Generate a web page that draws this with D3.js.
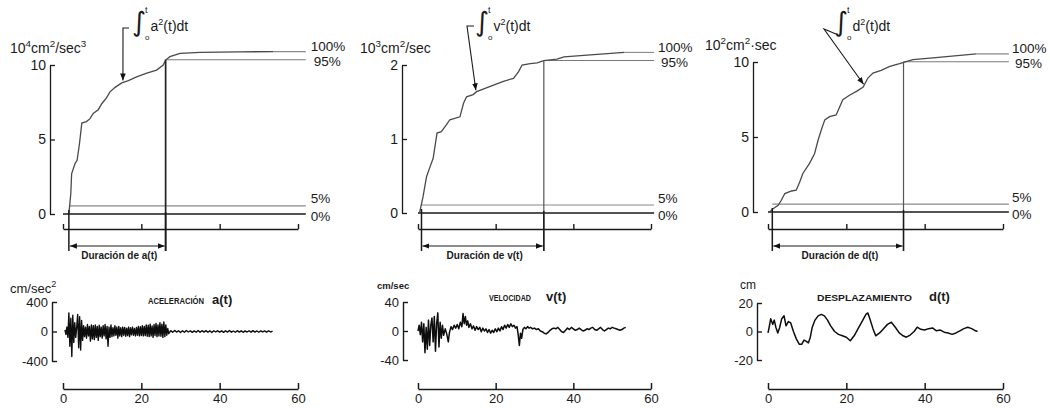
<!DOCTYPE html>
<html>
<head>
<meta charset="utf-8">
<script src="https://cdn.jsdelivr.net/npm/d3@7"></script>
<style>
  body { margin: 0; background: #fff; }
  svg { display: block; }
  text { font-family: "Liberation Sans", Arial, sans-serif; fill: #1a1a1a; }
</style>
</head>
<body>
<svg id="fig" width="1050" height="408"></svg>
<script>
// ---------------- data ----------------
const timeTicks = [0, 20, 40, 60];

// cumulative integrals [t (s), value]
const accelEnergyTicks = [0, 5, 10];           // 10^4 cm^2/sec^3
const accelEnergy = [
  [1.5, 0], [2.0, 1.4], [2.2, 2.7], [3.1, 3.4], [3.6, 3.6], [4.2, 4.7], [4.8, 6.1],
  [6.0, 6.2], [6.9, 6.4], [7.7, 6.75], [9.0, 7.0], [9.9, 7.4], [11.1, 7.8],
  [12.0, 8.2], [13.3, 8.5], [15.0, 8.8], [16.7, 8.95], [18.8, 9.2], [21.4, 9.45],
  [23.9, 9.66], [25.6, 10.0], [26.2, 10.33], [27.3, 10.56], [29.9, 10.78],
  [35.0, 10.85], [45.0, 10.88], [53.7, 10.9]
];
const velocityEnergyTicks = [0, 1, 2];         // 10^3 cm^2/sec
const velocityEnergy = [
  [0.4, 0.0], [1.3, 0.22], [2.2, 0.49], [3.0, 0.61], [3.9, 0.74], [4.9, 1.08],
  [6.0, 1.10], [7.3, 1.19], [8.2, 1.26], [10.8, 1.30], [11.7, 1.48], [12.5, 1.57],
  [14.2, 1.60], [15.1, 1.64], [18.6, 1.71], [22.0, 1.78], [24.6, 1.82], [25.9, 1.91],
  [26.8, 2.0], [28.9, 2.02], [30.7, 2.03], [32.4, 2.06], [35.8, 2.08], [37.6, 2.11],
  [42.7, 2.13], [53.1, 2.17]
];
const displacementEnergyTicks = [0, 5, 10];    // 10^2 cm^2·sec
const displacementEnergy = [
  [0.4, 0], [1.3, 0.22], [2.6, 0.45], [3.4, 0.78], [4.3, 1.23], [6.0, 1.4], [7.2, 1.45],
  [8.1, 2.0], [8.9, 2.57], [10.6, 3.24], [11.9, 3.9], [12.8, 4.8], [13.6, 5.47],
  [14.5, 6.14], [15.7, 6.36], [17.4, 6.47], [19.1, 7.48], [20.9, 7.8], [22.6, 8.04],
  [24.3, 8.33], [25.5, 8.93], [26.8, 9.26], [28.9, 9.44], [31.1, 9.71], [33.6, 9.89],
  [34.6, 9.98], [37.0, 10.16], [42.1, 10.27], [53.2, 10.54]
];
const percentLabels = ["100%", "95%", "5%", "0%"];

// significant duration bounds [start, end] (s)
const accelDuration = [1.5, 26.2];
const velocityDuration = [0.9, 32.4];
const displacementDuration = [1.1, 34.6];

// acceleration a(t), cm/sec^2: 0.25 s samples from 0.5 s, then 0.5 s samples from 27.5 s
const accelTicks = [-400, 0, 400];
const accelStart = 0.5, accelStep = 0.25;
const accel = [
  20, -40, 60, -80,
  250, -200, 180, -340, 220,
  -150, 120, -80, 60,
  230, -220, 200, -250, 150, -120,
  80, -70, 60, -90, 95, -60,
  70, -130, 90, -100, 80, -110,
  90, -80, 70, -120, 85, -70,
  60, -90, 80, -60, 95, -100,
  70, -200, 60, -80, 90, -70,
  50, -60, 80, -50, 60, -90,
  70, -60, 50, -70, 60, -50,
  55, -65, 45, -55, 60, -70,
  50, -45, 60, -50, 40, -60,
  55, -50, 70, -60, 65, -55,
  80, -60, 70, -55, 90, -65,
  85, -70, 100, -60, 75, -80,
  95, -55, 110, -70, 90, -60,
  120, -65, 100, -80, 130, -70,
  90, -50, 40, -30
];
const accelTailStart = 27.5, accelTailStep = 0.5;
const accelTail = [
  12, -10, 15, -8, 10, -14, 9, -11, 13, -7, 10, -12, 8, -10, 14, -9, 11, -8, 12, -10,
  9, -13, 10, -7, 11, -9, 8, -12, 10, -8, 13, -9, 7, -10, 11, -8, 9, -11, 8, -7,
  10, -9, 12, -8, 7, -10, 9, -6, 8, -9, 10, -7, 5
];

// velocity v(t), cm/sec
const velocityTicks = [-40, 0, 40];
const velocity = [
  [0, 0], [0.3, 8], [0.6, -5], [0.9, 12], [1.2, -15], [1.5, 10], [1.8, -30], [2.1, 5],
  [2.4, -25], [2.7, 15], [3.0, -20], [3.3, 8], [3.6, 18], [3.9, -15], [4.2, 20],
  [4.5, -28], [4.8, 10], [5.1, 25], [5.4, -22], [5.7, 12], [6.0, -10], [6.3, 8],
  [6.6, -6], [7.0, 3], [7.4, -4], [7.8, -15], [8.1, -2], [8.5, 6], [8.9, 2], [9.3, 8],
  [9.7, 4], [10.1, 9], [10.5, 3], [10.9, 12], [11.3, 6], [11.6, 24], [11.9, 10],
  [12.2, 20], [12.5, 8], [12.8, 14], [13.1, 5], [13.5, 10], [13.9, 3], [14.3, 7],
  [14.7, 1], [15.1, 6], [15.5, 2], [15.9, 5], [16.3, -1], [16.7, 4], [17.1, 0],
  [17.5, 3], [17.9, -2], [18.3, 2], [18.7, -3], [19.1, 1], [19.5, -2], [19.9, 3],
  [20.3, -1], [20.7, 4], [21.1, 0], [21.5, 6], [21.9, 2], [22.3, 8], [22.7, 4],
  [23.1, 9], [23.5, 5], [23.9, 10], [24.3, 6], [24.7, 8], [25.1, 4], [25.5, 6],
  [25.8, -5], [26.1, -20], [26.4, -3], [26.7, -10], [27.0, 2], [27.4, 5], [27.8, 3],
  [28.2, 6], [28.6, 4], [29.0, 5], [29.5, 3], [30.0, 4], [30.5, 2], [31.0, 3],
  [31.5, 0], [32.0, -1], [32.5, -3], [33.0, -4], [33.5, -2], [34.0, 1], [34.5, 3],
  [35.0, 4], [35.5, 3], [36.0, 5], [36.5, 2], [37.0, -1], [37.5, -2], [38.0, 1],
  [38.5, 4], [39.0, 2], [39.5, 5], [40.0, 3], [40.5, 1], [41.0, 2], [41.5, 4],
  [42.0, 2], [42.5, 0], [43.0, 1], [43.5, 3], [44.0, 2], [44.5, 4], [45.0, 5],
  [45.5, 2], [46.0, 1], [46.5, 3], [47.0, 5], [47.5, 2], [48.0, 0], [48.5, 2],
  [49.0, 4], [49.5, 3], [50.0, 5], [50.5, 4], [51.0, 3], [51.5, 2], [52.0, 1],
  [52.5, 2], [53.0, 4], [53.5, 5]
];

// displacement d(t), cm
const displacementTicks = [-20, 0, 20];
const displacement = [
  [0, -1], [0.3, 3], [0.7, 9], [1.2, 5], [1.6, 8], [2.0, 3], [2.5, -1], [3.0, 3],
  [3.5, 9], [4.1, 11], [4.6, 4], [5.2, 7], [5.8, 6], [6.5, 0], [7.2, -5], [8.0, -9],
  [8.6, -9], [9.2, -6], [9.8, -7], [10.3, -8], [10.8, -4], [11.3, 3], [12.0, 8],
  [12.8, 11], [13.6, 12], [14.4, 11], [15.2, 8], [16.0, 4], [17.0, 0], [18.0, -2],
  [19.0, -3], [20.0, -4], [21.0, -6.5], [22.0, -3], [23.0, 2], [24.0, 7], [25.0, 12],
  [25.5, 13], [26.0, 9], [26.8, 2], [27.5, -3], [28.5, -1], [29.5, 2], [30.5, 5],
  [31.5, 6.5], [32.5, 3], [33.5, -1], [34.5, -3], [35.3, -4], [36.3, -2.5], [37.3, 0],
  [38.1, 3], [39.0, 1.5], [40.0, 1], [41.0, 2], [42.0, 2.5], [43.0, 0.5], [44.0, 1],
  [45.0, -0.5], [46.0, -1], [47.0, -2], [48.0, -1], [49.0, 0.5], [50.0, 2], [51.0, 3],
  [52.0, 2], [53.0, 0.5], [53.5, 0]
];

// ---------------- drawing ----------------
const accelSeries = accel.map((v, i) => [accelStart + i * accelStep, v])
  .concat(accelTail.map((v, i) => [accelTailStart + i * accelTailStep, v]));

const svg = d3.select("#fig");
const defs = svg.append("defs");
defs.append("marker").attr("id", "arr")
  .attr("viewBox", "0 0 10 10").attr("refX", 10).attr("refY", 5)
  .attr("markerWidth", 7).attr("markerHeight", 7).attr("orient", "auto-start-reverse")
  .attr("markerUnits", "userSpaceOnUse")
  .append("path").attr("d", "M0,1 L10,5 L0,9 Z").attr("fill", "#111");

const ink = "#1a1a1a";
const intFmt = d3.format("d");
const columns = [
  {
    x: [63, 298], topAxisX: 50, topY: [214, 65], topDomain: [0, 10], topTicks: accelEnergyTicks,
    energy: accelEnergy, duration: accelDuration, durationText: "Duración de a(t)",
    lineEnd: 62, pctDx: 5, pctSize: 13.5,
    unitTop: [["10", 0], ["4", 1], ["cm", 0], ["2", 1], ["/sec", 0], ["3", 1]], unitTopPos: [10, 53],
    integrand: "a", integralX: 132, tipT: 15.3, leader: (tx, ty) => `M129,28 L123,28 L${tx},${ty - 2}`,
    vertColor: "#222", vertWidth: 1.7,
    botAxisX: 52, botY: [361, 302], botDomain: [-400, 400], botTicks: accelTicks,
    series: accelSeries, unitBot: [["cm/sec", 0], ["2", 1]], unitBotPos: [10, 293], unitBotStyle: [13, 400],
    title: "ACELERACIÓN", titleSym: "a(t)", titlePos: [148, 304], titleSize: 8.5, titleLen: 56, symX: 212,
    traceWidth: 1.4
  },
  {
    x: [418, 651], topAxisX: 402, topY: [213, 65], topDomain: [0, 2], topTicks: velocityEnergyTicks,
    energy: velocityEnergy, duration: velocityDuration, durationText: "Duración de v(t)",
    lineEnd: 60.8, pctDx: 4, pctSize: 13.5,
    unitTop: [["10", 0], ["3", 1], ["cm", 0], ["2", 1], ["/sec", 0]], unitTopPos: [360, 53],
    integrand: "v", integralX: 475, tipT: 14.9, leader: (tx, ty) => `M474,26 L467,26 L${tx},${ty - 2}`,
    vertColor: "#555", vertWidth: 1.2,
    botAxisX: 403, botY: [360, 302], botDomain: [-40, 40], botTicks: velocityTicks,
    series: velocity, unitBot: [["cm/sec", 0]], unitBotPos: [377, 289], unitBotStyle: [9.5, 700],
    title: "VELOCIDAD", titleSym: "v(t)", titlePos: [489, 301], titleSize: 8.5, titleLen: 42, symX: 546,
    traceWidth: 1.5
  },
  {
    x: [768, 1003], topAxisX: 753, topY: [212, 62], topDomain: [0, 10], topTicks: displacementEnergyTicks,
    energy: displacementEnergy, duration: displacementDuration, durationText: "Duración de d(t)",
    lineEnd: 61.5, pctDx: 3, pctSize: 13.5,
    unitTop: [["10", 0], ["2", 1], ["cm", 0], ["2", 1], ["·sec", 0]], unitTopPos: [705, 50],
    integrand: "d", integralX: 834, tipT: 24.4, leader: (tx, ty) => `M836,34 L824,29 L${tx},${ty - 2}`,
    vertColor: "#555", vertWidth: 1.2,
    botAxisX: 757, botY: [360, 303], botDomain: [-20, 20], botTicks: displacementTicks,
    series: displacement, unitBot: [["cm", 0]], unitBotPos: [740, 289], unitBotStyle: [12, 400],
    title: "DESPLAZAMIENTO", titleSym: "d(t)", titlePos: [817, 301], titleSize: 9.5, titleLen: 95, symX: 929,
    traceWidth: 1.5
  }
];

// text with superscript parts; each part is [string, isSuperscript]
function unitLabel(g, parts, pos, size, weight) {
  const t = g.append("text").attr("x", pos[0]).attr("y", pos[1])
    .attr("font-size", size).attr("font-weight", weight || 400);
  const rise = size * 0.45;
  let raised = false;
  parts.forEach(([s, sup]) => {
    const sp = t.append("tspan").text(s);
    if (sup) { sp.attr("font-size", size * 0.7).attr("dy", raised ? 0 : -rise); raised = true; }
    else { sp.attr("dy", raised ? rise : 0); raised = false; }
  });
}

function interpAt(series, t) {
  for (let i = 1; i < series.length; i++) {
    if (series[i][0] >= t) {
      const [t0, v0] = series[i - 1], [t1, v1] = series[i];
      return v0 + (v1 - v0) * (t - t0) / (t1 - t0);
    }
  }
  return series[series.length - 1][1];
}

columns.forEach(c => {
  const g = svg.append("g");
  const x = d3.scaleLinear().domain([0, 60]).range(c.x);
  const yT = d3.scaleLinear().domain(c.topDomain).range(c.topY);
  const yB = d3.scaleLinear().domain(c.botDomain).range(c.botY);
  const total = c.energy[c.energy.length - 1][1];
  const bracketY = 246, bracketBottom = 251;

  // ----- cumulative integral panel -----
  const yAx = g.append("g").attr("transform", `translate(${c.topAxisX},0)`)
    .call(d3.axisLeft(yT).tickValues(c.topTicks).tickFormat(intFmt)
      .tickSizeInner(-5).tickSizeOuter(0).tickPadding(4));
  yAx.selectAll("text").attr("font-size", 14).attr("font-family", "Liberation Sans, Arial, sans-serif").attr("fill", ink);
  yAx.selectAll("path,line").attr("stroke", ink).attr("stroke-width", 1.3);

  unitLabel(g, c.unitTop, c.unitTopPos, 14);

  const tAx = g.append("g").attr("transform", `translate(0,229)`)
    .call(d3.axisBottom(x).tickValues(timeTicks).tickSizeInner(-5).tickSizeOuter(0).tickFormat(""));
  tAx.selectAll("path,line").attr("stroke", ink).attr("stroke-width", 1.4);

  // reference levels: 100 %, 95 %, 5 %, 0 %
  const levels = [
    { v: total, from: c.energy[c.energy.length - 1][0], color: "#8a8a8a", w: 1.1, dx: 0, dy: -4 },
    { v: 0.95 * total, from: c.duration[1], color: "#7a7a7a", w: 1.1, dx: 3, dy: 3 },
    { v: 0.05 * total, from: c.duration[0], color: "#8a8a8a", w: 1.1, dx: 0, dy: -6 },
    { v: 0, from: 0, color: ink, w: 1.6, dx: 0, dy: 3 }
  ];
  levels.forEach((L, i) => {
    g.append("line").attr("x1", x(L.from)).attr("x2", x(c.lineEnd))
      .attr("y1", yT(L.v)).attr("y2", yT(L.v))
      .attr("stroke", L.color).attr("stroke-width", L.w);
    g.append("text").attr("x", x(c.lineEnd) + c.pctDx + L.dx).attr("y", yT(L.v) + L.dy)
      .attr("font-size", c.pctSize).attr("dominant-baseline", "middle")
      .text(percentLabels[i]);
  });

  // cumulative curve
  g.append("path").datum(c.energy)
    .attr("d", d3.line().x(d => x(d[0])).y(d => yT(d[1])))
    .attr("fill", "none").attr("stroke", "#4a4a4a").attr("stroke-width", 1.3);

  // duration bounds and bracket
  g.append("line").attr("x1", x(c.duration[0])).attr("x2", x(c.duration[0]))
    .attr("y1", yT(0) - 4).attr("y2", bracketBottom).attr("stroke", ink).attr("stroke-width", 1.5);
  g.append("line").attr("x1", x(c.duration[1])).attr("x2", x(c.duration[1]))
    .attr("y1", yT(0.95 * total)).attr("y2", bracketBottom)
    .attr("stroke", c.vertColor).attr("stroke-width", c.vertWidth);
  g.append("line").attr("x1", x(c.duration[1])).attr("x2", x(c.duration[1]))
    .attr("y1", yT(0) - 2).attr("y2", bracketBottom).attr("stroke", ink).attr("stroke-width", 1.5);
  g.append("line").attr("x1", x(c.duration[0]) + 1).attr("x2", x(c.duration[1]) - 1)
    .attr("y1", bracketY).attr("y2", bracketY).attr("stroke", ink).attr("stroke-width", 1.2)
    .attr("marker-start", "url(#arr)").attr("marker-end", "url(#arr)");
  g.append("text").attr("x", (x(c.duration[0]) + x(c.duration[1])) / 2 + 2).attr("y", 259)
    .attr("text-anchor", "middle").attr("font-size", 10).attr("font-weight", 700)
    .text(c.durationText);

  // integral annotation: ∫ with its limits set to the right, then the integrand
  const it = g.append("text").attr("x", c.integralX).attr("y", 31).attr("font-size", 14);
  it.append("tspan").attr("font-size", 27).attr("font-family", "DejaVu Sans, sans-serif").text("∫");
  it.append("tspan").attr("font-size", 9).attr("dx", -1).attr("dy", -18).text("t");
  it.append("tspan").attr("font-size", 8).attr("dx", -2.5).attr("dy", 27).text("o");
  it.append("tspan").attr("dx", 1).attr("dy", -9).text(c.integrand);
  it.append("tspan").attr("font-size", 9).attr("dy", -6).text("2");
  it.append("tspan").attr("dy", 6).text("(t)dt");
  const tx = x(c.tipT), ty = yT(interpAt(c.energy, c.tipT));
  g.append("path").attr("d", c.leader(tx, ty)).attr("fill", "none")
    .attr("stroke", ink).attr("stroke-width", 1.1).attr("marker-end", "url(#arr)");

  // ----- time history panel -----
  const bAx = g.append("g").attr("transform", `translate(${c.botAxisX},0)`)
    .call(d3.axisLeft(yB).tickValues(c.botTicks).tickFormat(d => String(d))
      .tickSizeInner(-5).tickSizeOuter(0).tickPadding(4));
  bAx.selectAll("text").attr("font-size", 13).attr("font-family", "Liberation Sans, Arial, sans-serif").attr("fill", ink);
  bAx.selectAll("path,line").attr("stroke", ink).attr("stroke-width", 1.4);

  unitLabel(g, c.unitBot, c.unitBotPos, c.unitBotStyle[0], c.unitBotStyle[1]);

  g.append("text").attr("x", c.titlePos[0]).attr("y", c.titlePos[1])
    .attr("font-size", c.titleSize).attr("font-weight", 700)
    .attr("textLength", c.titleLen).attr("lengthAdjust", "spacingAndGlyphs").text(c.title);
  g.append("text").attr("x", c.symX).attr("y", c.titlePos[1]).attr("font-size", 13)
    .attr("font-weight", 700).text(c.titleSym);

  g.append("path").datum(c.series)
    .attr("d", d3.line().x(d => x(d[0])).y(d => yB(d[1])))
    .attr("fill", "none").attr("stroke", "#0d0d0d").attr("stroke-width", c.traceWidth)
    .attr("stroke-linejoin", "round");

  const bt = g.append("g").attr("transform", `translate(0,389)`)
    .call(d3.axisBottom(x).tickValues(timeTicks).tickSizeInner(-6).tickSizeOuter(0).tickPadding(5));
  bt.selectAll("text").attr("font-size", 13).attr("font-family", "Liberation Sans, Arial, sans-serif").attr("fill", ink);
  bt.selectAll("path,line").attr("stroke", ink).attr("stroke-width", 1.5);
});
</script>
</body>
</html>
